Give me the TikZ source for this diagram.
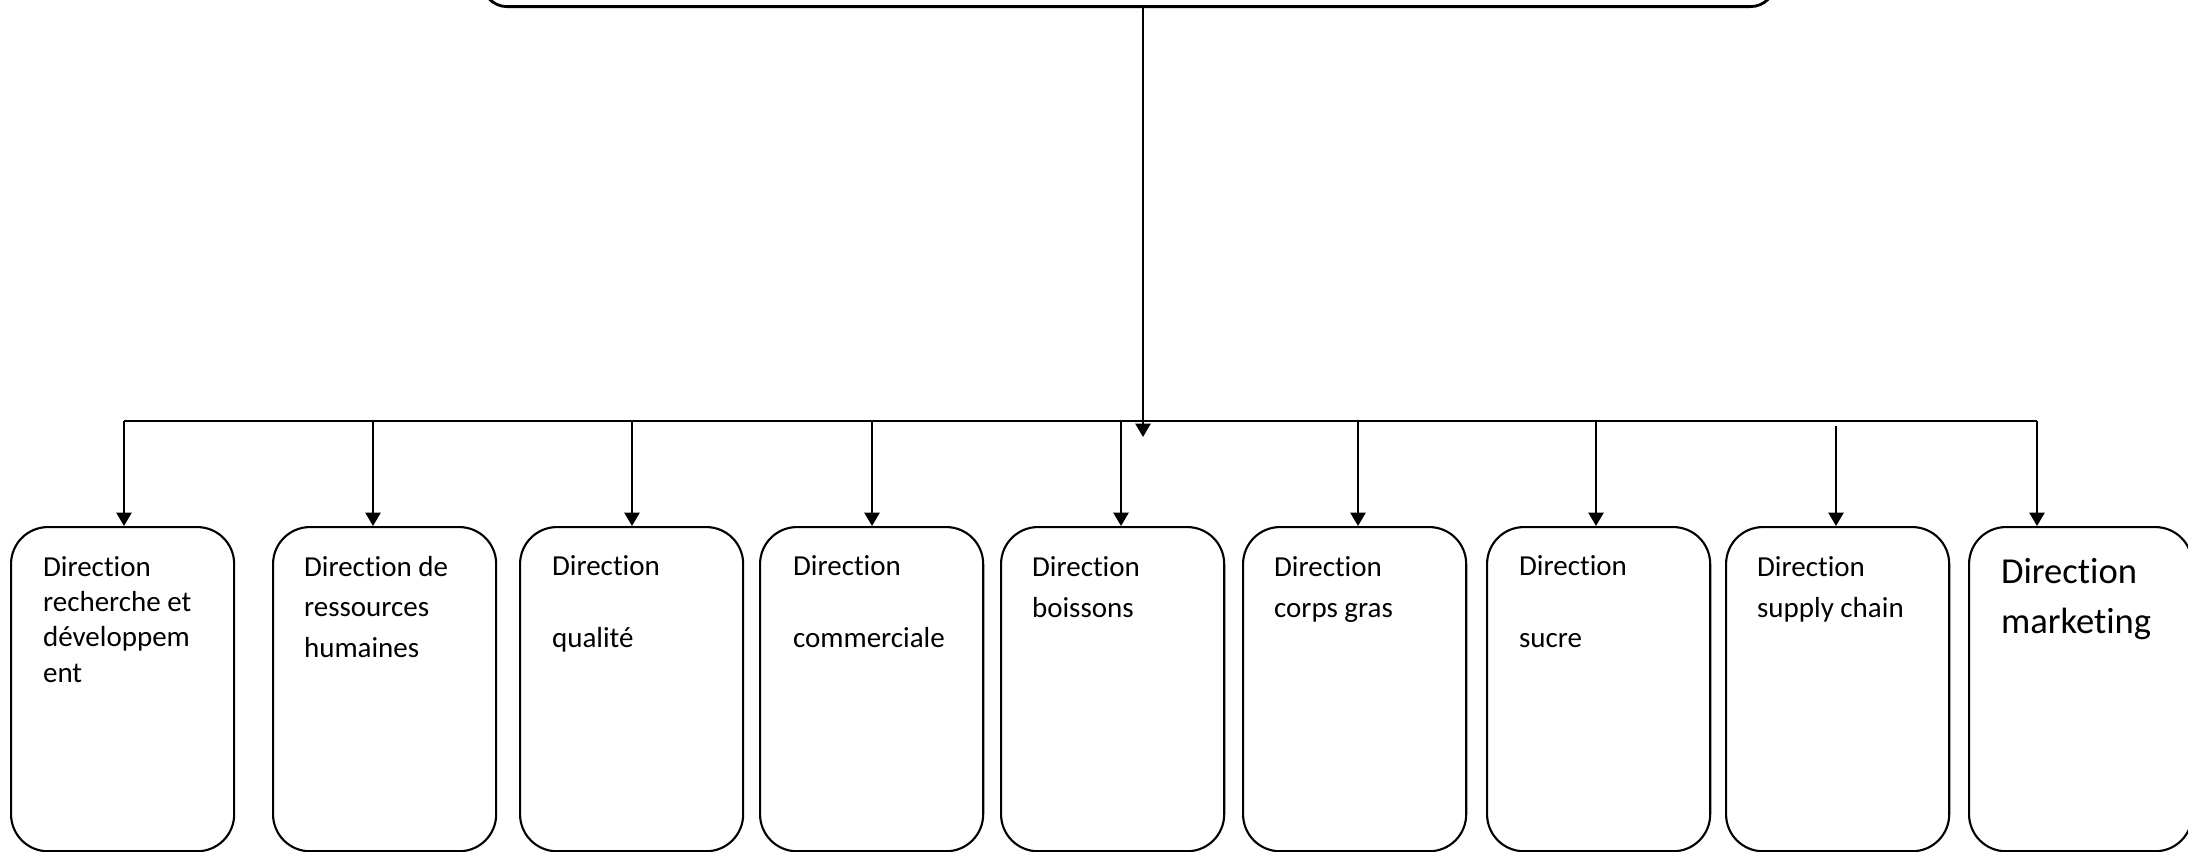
\documentclass[tikz,border=0pt]{standalone}
\usepackage{fontspec}
\setmainfont{Carlito}[Ligatures=NoCommon]
\usetikzlibrary{arrows.meta}

\tikzset{
    dirbox/.style={draw, line width=0.6pt, rounded corners=10.5pt, anchor=north west,
        minimum width=2.23cm, minimum height=3.24cm, inner sep=0pt},
    dirtext/.style={anchor=base west, inner sep=0pt, align=left,
        font=\fontsize{8.25}{11.5}\selectfont},
}

\begin{document}
\begin{tikzpicture}[x=0.01cm, y=-0.01cm, line width=0.6pt,
                    >={Triangle[width=4.3pt,length=3.8pt]}]
                            \useasboundingbox (0,0) rectangle (2188,851);
                            \clip (0,0) rectangle (2188,851);

                            \node[draw, line width=0.8pt, rounded corners=7pt, anchor=south west,
                                  minimum width=12.92cm, minimum height=1cm] (dg) at (481,8) {};

                            \node[dirbox] (d1) at (10,526) {};
                            \node[dirbox] (d2) at (272,526) {};
                            \node[dirbox] (d3) at (519,526) {};
                            \node[dirbox] (d4) at (759,526) {};
                            \node[dirbox] (d5) at (1000,526) {};
                            \node[dirbox] (d6) at (1242,526) {};
                            \node[dirbox] (d7) at (1486,526) {};
                            \node[dirbox] (d8) at (1725,526) {};
                            \node[dirbox] (d9) at (1968,526) {};

                            % texts sit on the baseline of their last line
                            \node[dirtext, font=\fontsize{8.25}{10}\selectfont] (t1) at (42,682)
                                {Direction\\recherche et\\développem\\ent};
                            \node[dirtext] (t2) at (303,657) {Direction de\\ressources\\humaines};
                            \node[dirtext] (t3) at (551,647) {Direction\\[8.7pt]qualité};
                            \node[dirtext] (t4) at (792,647) {Direction\\[8.7pt]commerciale};
                            \node[dirtext] (t5) at (1031,617) {Direction\\boissons};
                            \node[dirtext] (t6) at (1273,617) {Direction\\corps gras};
                            \node[dirtext] (t7) at (1518,647) {Direction\\[8.7pt]sucre};
                            \node[dirtext] (t8) at (1756,617) {Direction\\supply chain};
                            \node[dirtext, font=\fontsize{10.4}{14.2}\selectfont] (t9) at (2000,633)
                                {Direction\\marketing};

                            % bus
                            \coordinate (b1) at (124,421);
                            \coordinate (b2) at (373,421);
                            \coordinate (b3) at (632,421);
                            \coordinate (b4) at (872,421);
                            \coordinate (b5) at (1121,421);
                            \coordinate (b6) at (1358,421);
                            \coordinate (b7) at (1596,421);
                            \coordinate (b8) at (1836,426);
                            \coordinate (b9) at (2037,421);
                            \coordinate (tip) at (1143,437);

                            \draw (b1) -- (b9);
                            \draw[->] (dg.south -| tip) -- (tip);

                            \draw[->] (b1) -- (b1 |- d1.north);
                            \draw[->] (b2) -- (b2 |- d2.north);
                            \draw[->] (b3) -- (b3 |- d3.north);
                            \draw[->] (b4) -- (b4 |- d4.north);
                            \draw[->] (b5) -- (b5 |- d5.north);
                            \draw[->] (b6) -- (b6 |- d6.north);
                            \draw[->] (b7) -- (b7 |- d7.north);
                            \draw[->] (b8) -- (b8 |- d8.north);
                            \draw[->] (b9) -- (b9 |- d9.north);
\end{tikzpicture}
\end{document}
